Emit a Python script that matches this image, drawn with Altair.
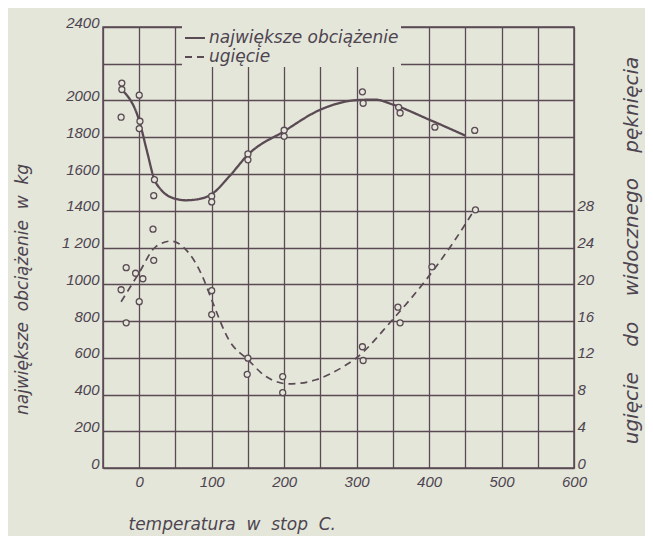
import altair as alt
import pandas as pd

BG = "#e4e6da"
INK = "#5a4a54"
TXT = "#4d4450"
FONT = "DejaVu Sans"
NUMFONT = "Liberation Sans"
SP = "\u00a0"

# temperature categories / x values (deg C)
x_ticks = [0, 100, 200, 300, 400, 500, 600]
y_ticks = list(range(0, 2401, 200))
r_ticks = [0, 4, 8, 12, 16, 20, 24, 28]

# fitted curve: największe obciążenie (kg)
load_curve_x = [-23, 0, 10, 21, 30, 46, 64, 83, 100, 125, 150, 200, 250, 300, 325, 350, 400, 450]
load_curve_y = [2056, 1890, 1735, 1570, 1515, 1470, 1457, 1464, 1490, 1590, 1705, 1833, 1950, 2002, 2005, 1978, 1896, 1809]

# measured points: największe obciążenie (kg)
load_pts_x = [-24, -24, -25, 0, 1, 0, 21, 20, 100, 100, 150, 150, 200, 200, 308, 309, 358, 360, 408, 463]
load_pts_y = [2095, 2060, 1909, 2029, 1887, 1847, 1569, 1482, 1479, 1448, 1709, 1677, 1838, 1805, 2047, 1985, 1963, 1932, 1855, 1837]

# fitted curve: ugięcie
defl_curve_x = [-25, -2, 23, 44, 64, 87, 100, 124, 150, 175, 207, 244, 281, 300, 348, 396, 433, 461]
defl_curve_y = [18.1, 21.0, 24.1, 24.7, 23.8, 20.9, 18.3, 13.9, 11.8, 9.95, 9.15, 9.6, 11.0, 12.0, 16.0, 20.5, 24.5, 27.9]

# measured points: ugięcie
defl_pts_x = [-18, -5, 5, -25, 0, -18, 19, 20, 100, 100, 150, 149, 198, 198, 308, 309, 357, 360, 404, 464]
defl_pts_y = [21.8, 21.2, 20.6, 19.4, 18.1, 15.8, 26.0, 22.6, 19.3, 16.7, 11.95, 10.2, 9.95, 8.2, 13.2, 11.7, 17.5, 15.8, 21.9, 28.1]

S_LOAD = "największe obciążenie"
S_DEFL = "ugięcie"

X_TITLE = "temperatura w stop C.".replace(" ", SP * 2)
Y_TITLE = "największe obciążenie w kg".replace(" ", SP * 2)
R_TITLE = "ugięcie do widocznego pęknięcia".replace(" ", SP * 4)

load_curve = pd.DataFrame({"t": load_curve_x, "kg": load_curve_y, "seria": S_LOAD})
load_pts = pd.DataFrame({"t": load_pts_x, "kg": load_pts_y})
defl_curve = pd.DataFrame({"t": defl_curve_x, "u": defl_curve_y, "seria": S_DEFL})
defl_pts = pd.DataFrame({"t": defl_pts_x, "u": defl_pts_y})

xscale = alt.Scale(domain=[-50, 600], nice=False, zero=False)
yscale = alt.Scale(domain=[0, 2400], nice=False)
rscale = alt.Scale(domain=[0, 48], nice=False)

common_axis = dict(
    labelFont=NUMFONT, labelFontStyle="italic", labelFontSize=15, labelColor=TXT,
    titleFont=FONT, titleFontStyle="italic", titleFontWeight="normal", titleColor=TXT,
    ticks=False, domain=False, labelOverlap=False, tickCount=40,
)

xaxis = alt.Axis(
    values=list(range(-50, 601, 50)),
    labelExpr="datum.value >= 0 && datum.value % 100 == 0 ? datum.label : ''",
    format="d", grid=True, gridColor=INK, gridWidth=1.3, gridOpacity=1,
    labelPadding=6, labelFlush=False,
    title=X_TITLE, titleFontSize=17,
    titleX=25, titleY=56, titleAlign="left", titleBaseline="middle", titleAnchor="start",
    **common_axis,
)

yaxis = alt.Axis(
    values=y_ticks, format="d",
    labelExpr="datum.value == 2200 ? '' : datum.value == 1200 ? '1 200' : datum.label",
    grid=True, gridColor=INK, gridWidth=1.3, gridOpacity=1,
    labelPadding=4, labelBaseline="alphabetic", labelFlush=False,
    title=Y_TITLE, titleFontSize=17,
    titleX=-81, titleY=262, titleAngle=270, titleAlign="center", titleBaseline="middle",
    **common_axis,
)

raxis = alt.Axis(
    values=r_ticks, format="d", grid=False, orient="right",
    labelPadding=3, labelBaseline="alphabetic", labelFlush=False,
    title=R_TITLE, titleFontSize=20,
    titleX=57, titleY=223, titleAngle=270, titleAlign="center", titleBaseline="middle",
    **common_axis,
)

dash = alt.StrokeDash(
    "seria:N",
    scale=alt.Scale(domain=[S_LOAD, S_DEFL], range=[[1, 0], [7, 5]]),
    legend=alt.Legend(
        title=None, orient="none", legendX=79, legendY=-2,
        fillColor=BG, padding=2, rowPadding=0,
        symbolType="stroke", symbolStrokeColor=INK, symbolStrokeWidth=2, symbolSize=400,
        labelFont=FONT, labelFontStyle="italic", labelFontSize=17, labelColor=TXT,
        labelOffset=3, labelLimit=400,
    ),
)

load_line = alt.Chart(load_curve).mark_line(
    interpolate="monotone", color=INK, strokeWidth=2.3
).encode(x=alt.X("t:Q", scale=xscale, axis=xaxis), y=alt.Y("kg:Q", scale=yscale, axis=yaxis), strokeDash=dash)

load_point = alt.Chart(load_pts).mark_point(
    shape="circle", size=36, filled=False, fill=BG, fillOpacity=1, color=INK, strokeWidth=1.3, opacity=1
).encode(x=alt.X("t:Q", scale=xscale), y=alt.Y("kg:Q", scale=yscale))

defl_line = alt.Chart(defl_curve).mark_line(
    interpolate="monotone", color=INK, strokeWidth=1.7
).encode(x=alt.X("t:Q", scale=xscale), y=alt.Y("u:Q", scale=rscale, axis=raxis), strokeDash=dash)

defl_point = alt.Chart(defl_pts).mark_point(
    shape="circle", size=36, filled=False, fill=BG, fillOpacity=1, color=INK, strokeWidth=1.3, opacity=1
).encode(x=alt.X("t:Q", scale=xscale), y=alt.Y("u:Q", scale=rscale))

left = alt.layer(load_line, load_point)
right = alt.layer(defl_line, defl_point)

chart = alt.layer(left, right).resolve_scale(y="independent").properties(
    width=471, height=441,
    autosize=alt.AutoSizeParams(type="none"),
    padding={"left": 95, "top": 19, "right": 71, "bottom": 70},
    background=BG,
).configure_view(stroke=INK, strokeWidth=1.5)

chart.save("out.html", embed_options={"renderer": "svg", "actions": False})
